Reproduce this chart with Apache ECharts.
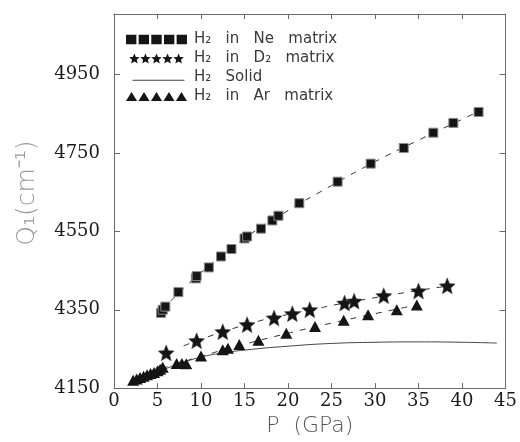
<!DOCTYPE html>
<html>
<head>
<meta charset="utf-8">
<script src="https://cdn.jsdelivr.net/npm/echarts@6/dist/echarts.min.js"></script>
<style>
  html, body { margin: 0; padding: 0; background: #fff; }
  #chart { width: 520px; height: 442px; }
</style>
</head>
<body>
<div id="chart"></div>
<script>
// Q1 vibron frequency of H2 versus pressure in different matrices
const neMatrix = [
  [5.4, 4342], [5.6, 4350], [5.9, 4358], [7.4, 4395], [9.4, 4430], [9.5, 4436],
  [10.9, 4458], [12.3, 4486], [13.5, 4505], [15.0, 4532], [15.3, 4537], [16.9, 4557],
  [18.2, 4578], [18.9, 4590], [21.3, 4622], [25.7, 4677], [29.5, 4723], [33.3, 4763],
  [36.7, 4802], [39.0, 4827], [41.9, 4855]
];
const d2Matrix = [
  [6.0, 4240], [9.5, 4271], [12.5, 4294], [15.3, 4312], [18.4, 4329], [20.5, 4340],
  [22.5, 4350], [26.5, 4367], [27.6, 4372], [31.0, 4386], [35.0, 4398], [38.3, 4411]
];
const arMatrix = [
  [2.2, 4170], [2.6, 4173], [3.0, 4177], [3.4, 4180], [3.8, 4184], [4.2, 4187],
  [4.6, 4190], [5.0, 4194], [5.3, 4198], [5.6, 4203], [7.2, 4213], [7.8, 4213],
  [8.3, 4212], [10.0, 4232], [12.5, 4248], [13.1, 4252], [14.4, 4261], [16.6, 4272],
  [19.8, 4290], [23.1, 4307], [26.4, 4323], [29.2, 4337], [32.5, 4350], [34.8, 4362]
];
const solidH2 = [
  [2, 4163], [4, 4181], [6, 4200], [8, 4216], [10, 4229], [12, 4238], [15, 4247],
  [20, 4257], [25, 4264], [30, 4267], [35, 4268], [40, 4267], [44, 4265]
];
// dashed guide lines through each matrix data set
const neFit = [[6.5, 4372], [10, 4445], [15, 4532], [20, 4603], [25, 4667], [30, 4728], [35, 4783], [42, 4857]];
const d2Fit = [[8, 4258], [15, 4311], [22, 4347], [30, 4381], [38.5, 4411]];
const arFit = [[5.5, 4200], [10, 4231], [15, 4262], [20, 4290], [25, 4316], [30, 4340], [35, 4363]];

const seriesNames = ['H₂   in   Ne   matrix', 'H₂   in   D₂   matrix', 'H₂   Solid', 'H₂   in   Ar   matrix'];
const xTicks = { min: 0, max: 45, step: 5 };
const yTicks = { min: 4150, max: 5105, step: 200 };

const INK = '#151515';
const serifFont = 'DejaVu Serif';
const sansFont = 'DejaVu Sans';

const starPath = 'M6,0L7.587,3.816L11.706,4.146L8.568,6.834L9.527,10.854L6,8.7L2.473,10.854L3.432,6.834L0.294,4.146L4.413,3.816Z';

// repeat a small outline five times along a row for the legend samples
function rowOf(shape, step) {
  let d = '';
  for (let i = 0; i < 5; i++) {
    d += shape.replace(/([ML])([\d.]+),([\d.]+)/g, (m, c, x, y) => c + (parseFloat(x) + i * step).toFixed(3) + ',' + y);
  }
  return 'path://' + d;
}
const squareRow = rowOf('M0,0L10,0L10,9L0,9Z', 12.2);
const starRow = rowOf(starPath, 12.0);
const triRow = rowOf('M0,9L5.5,0L11,9Z', 12.4);
const lineIcon = 'path://M0,0L0.01,0L0.01,0.01Z M4,7.3L56,7.3L56,8.2L4,8.2Z M0,10L0.01,10L0.01,10.01Z';

const axisLineStyle = { color: '#6a6a6a', width: 1 };

const xAxisBase = {
  type: 'value', min: xTicks.min, max: xTicks.max, interval: xTicks.step,
  axisLine: { show: true, onZero: false, lineStyle: axisLineStyle },
  axisTick: { show: true, inside: true, length: 5, lineStyle: axisLineStyle },
  splitLine: { show: false }
};
const yAxisBase = {
  type: 'value', min: yTicks.min, max: yTicks.max, interval: yTicks.step,
  axisLine: { show: true, onZero: false, lineStyle: axisLineStyle },
  axisTick: { show: true, inside: true, length: 6, lineStyle: axisLineStyle },
  splitLine: { show: false }
};
const yLabel = v => ((v - yTicks.min) % yTicks.step === 0 ? String(v) : '');

const chart = echarts.init(document.getElementById('chart'), null, { renderer: 'canvas' });
chart.setOption({
  backgroundColor: '#fff',
  animation: false,
  grid: { left: 114, right: 12, top: 14, bottom: 46 },
  legend: {
    orient: 'vertical', left: 121, top: 25,
    itemWidth: 61, itemHeight: 10, itemGap: 0,
    selectedMode: false,
    itemStyle: { borderWidth: 0 },
    textStyle: { fontFamily: sansFont, fontSize: 15, color: '#3a3a3a', lineHeight: 19, padding: [0, 0, 0, 2] },
    data: [
      { name: seriesNames[0], icon: squareRow },
      { name: seriesNames[1], icon: starRow },
      { name: seriesNames[2], icon: lineIcon },
      { name: seriesNames[3], icon: triRow }
    ]
  },
  xAxis: [
    Object.assign({}, xAxisBase, {
      position: 'bottom',
      name: 'P  (GPa)', nameLocation: 'middle', nameGap: 22,
      nameTextStyle: { fontFamily: sansFont, fontSize: 22, color: '#555', fontWeight: 'lighter' },
      axisLabel: { fontFamily: serifFont, fontSize: 18, color: '#1a1a1a', margin: 4 }
    }),
    Object.assign({}, xAxisBase, { position: 'top', axisLabel: { show: false } })
  ],
  yAxis: [
    Object.assign({}, yAxisBase, {
      position: 'left',
      name: 'Q₁(cm⁻¹)', nameLocation: 'middle', nameGap: 74,
      nameTextStyle: { fontFamily: sansFont, fontSize: 25, color: '#9a9a9a', fontWeight: 'lighter', padding: [0, 0, 0, 16] },
      axisLabel: { fontFamily: serifFont, fontSize: 18, color: '#1a1a1a', margin: 14, formatter: yLabel }
    }),
    Object.assign({}, yAxisBase, { position: 'right', axisLabel: { show: false } })
  ],
  series: [
    {
      name: 'Ne guide', type: 'line', data: neFit, smooth: true, symbol: 'none', silent: true,
      lineStyle: { color: '#333', width: 1, type: [6, 7] }, z: 1
    },
    {
      name: 'D2 guide', type: 'line', data: d2Fit, smooth: true, symbol: 'none', silent: true,
      lineStyle: { color: '#333', width: 1, type: [6, 7] }, z: 1
    },
    {
      name: 'Ar guide', type: 'line', data: arFit, smooth: true, symbol: 'none', silent: true,
      lineStyle: { color: '#333', width: 1, type: [6, 7] }, z: 1
    },
    {
      name: seriesNames[0], type: 'scatter', data: neMatrix, symbol: 'rect', symbolSize: 9,
      itemStyle: { color: INK, borderColor: '#8a8a8a', borderWidth: 1, opacity: 1 }, z: 3
    },
    {
      name: seriesNames[1], type: 'scatter', data: d2Matrix, symbol: 'path://' + starPath, symbolSize: 16,
      itemStyle: { color: INK, borderColor: '#555', borderWidth: 0.5, opacity: 1 }, z: 3
    },
    {
      name: seriesNames[2], type: 'line', data: solidH2, smooth: true, symbol: 'none',
      itemStyle: { color: '#444' },
      lineStyle: { color: '#444', width: 1 }, z: 2
    },
    {
      name: seriesNames[3], type: 'scatter', data: arMatrix, symbol: 'triangle', symbolSize: [12, 11],
      itemStyle: { color: INK, opacity: 1 }, z: 3
    }
  ]
});
</script>
</body>
</html>
